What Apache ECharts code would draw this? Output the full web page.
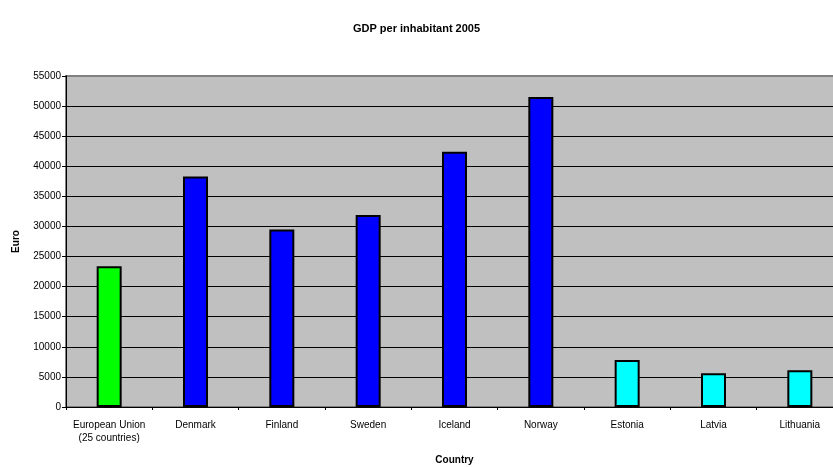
<!DOCTYPE html>
<html>
<head>
<meta charset="utf-8">
<script src="https://cdn.jsdelivr.net/npm/echarts@6/dist/echarts.min.js"></script>
<style>html,body{margin:0;padding:0;background:#fff;overflow:hidden;}#c{width:833px;height:467px;}</style>
</head>
<body>
<div id="c"></div>
<script>
const categories = ['European Union\n(25 countries)', 'Denmark', 'Finland', 'Sweden', 'Iceland', 'Norway', 'Estonia', 'Latvia', 'Lithuania'];
const values = [23400, 38300, 29500, 31900, 42400, 51500, 7800, 5600, 6100];
const barColors = ['#00ff00', '#0000ff', '#0000ff', '#0000ff', '#0000ff', '#0000ff', '#00ffff', '#00ffff', '#00ffff'];

const font = '"Liberation Sans", Arial, sans-serif';
const chart = echarts.init(document.getElementById('c'));
chart.setOption({
  animation: false,
  backgroundColor: '#ffffff',
  title: {
    text: 'GDP per inhabitant 2005',
    left: 'center',
    top: 18,
    textStyle: { fontFamily: font, fontSize: 11, fontWeight: 'bold', color: '#000' }
  },
  grid: {
    left: 66, top: 76, width: 777, bottom: 60,
    outerBoundsMode: 'none',
    containLabel: false,
    show: true, backgroundColor: '#c0c0c0', borderColor: '#808080', borderWidth: 2
  },
  xAxis: {
    type: 'category',
    data: categories,
    name: 'Country',
    nameLocation: 'middle',
    nameGap: 48,
    nameTextStyle: { fontFamily: font, fontSize: 10, fontWeight: 'bold', color: '#000' },
    axisLine: { lineStyle: { color: '#000', width: 1 } },
    axisTick: { show: true, length: 3, lineStyle: { color: '#000' } },
    axisLabel: { fontFamily: font, fontSize: 10, color: '#000', margin: 12, lineHeight: 13, interval: 0 }
  },
  yAxis: {
    type: 'value',
    min: 0, max: 55000, interval: 5000,
    name: 'Euro',
    nameLocation: 'middle',
    nameGap: 45,
    nameTextStyle: { fontFamily: font, fontSize: 10, fontWeight: 'bold', color: '#000' },
    axisLine: { show: true, lineStyle: { color: '#000', width: 1 } },
    axisTick: { show: true, length: 4, lineStyle: { color: '#000' } },
    axisLabel: { fontFamily: font, fontSize: 10, color: '#000', margin: 5, formatter: v => String(v) },
    splitLine: { show: true, lineStyle: { color: ['#000','#000','#000','#000','#000','#000','#000','#000','#000','#000','#000','#808080'], width: 1 } }
  },
  series: [{
    type: 'bar',
    data: values.map((v, i) => ({ value: v, itemStyle: { color: barColors[i] } })),
    barWidth: 25,
    itemStyle: { borderColor: '#000', borderWidth: 2 }
  }]
});
</script>
</body>
</html>
